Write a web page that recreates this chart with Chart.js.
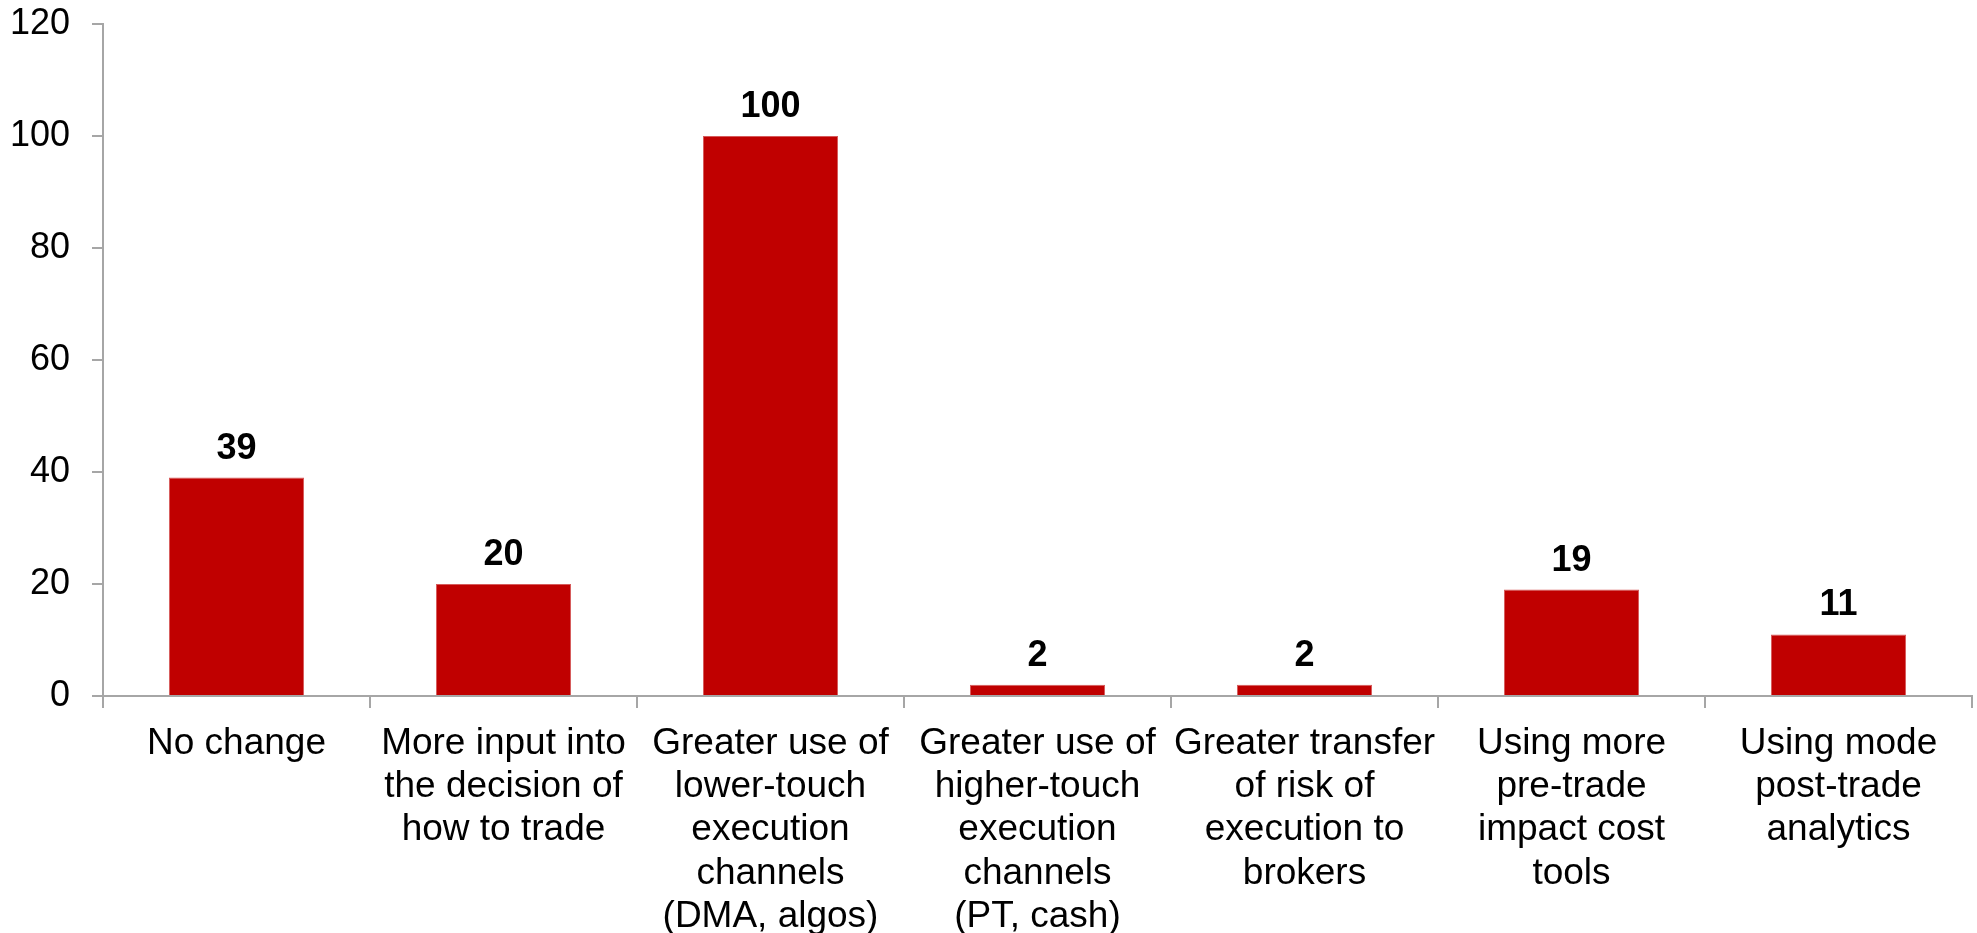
<!DOCTYPE html>
<html>
<head>
<meta charset="utf-8">
<script src="https://cdn.jsdelivr.net/npm/chart.js@4"></script>
<style>
    html, body { margin: 0; padding: 0; background: #fff; }
    #wrap { width: 1977px; height: 933px; }
</style>
</head>
<body>
<div id="wrap"><canvas id="chart" width="1977" height="933"></canvas></div>
<script>
const categories = [
    "No change",
    ["More input into", "the decision of", "how to trade"],
    ["Greater use of", "lower-touch", "execution", "channels", "(DMA, algos)"],
    ["Greater use of", "higher-touch", "execution", "channels", "(PT, cash)"],
    ["Greater transfer", "of risk of", "execution to", "brokers"],
    ["Using more", "pre-trade", "impact cost", "tools"],
    ["Using mode", "post-trade", "analytics"]
];
const values = [39, 20, 100, 2, 2, 19, 11];
const yTicks = [0, 20, 40, 60, 80, 100, 120];

const FONT = "'Liberation Sans', Arial, sans-serif";
const AXIS_GREY = '#a6a6a6';

// value labels above the bars (no datalabels plugin here)
const valueLabels = {
    id: 'valueLabels',
    afterDatasetsDraw(chart) {
        const ctx = chart.ctx;
        const meta = chart.getDatasetMeta(0);
        ctx.save();
        ctx.font = 'bold 36px ' + FONT;
        ctx.fillStyle = '#000';
        ctx.textAlign = 'center';
        ctx.textBaseline = 'alphabetic';
        meta.data.forEach((bar, i) => {
            ctx.fillText(String(values[i]), bar.x, bar.y - 19);
        });
        ctx.restore();
    }
};

new Chart(document.getElementById('chart'), {
    type: 'bar',
    data: {
        labels: categories,
        datasets: [{
            data: values,
            backgroundColor: '#c00000',
            borderColor: '#d65a5a',
            borderWidth: 1,
            barPercentage: 0.506,
            categoryPercentage: 1
        }]
    },
    options: {
        responsive: false,
        animation: false,
        layout: { padding: { top: 24, right: 5, left: 0, bottom: 0 } },
        plugins: {
            legend: { display: false },
            tooltip: { enabled: false }
        },
        scales: {
            x: {
                afterFit(scale) {
                    scale.height = 237;
                    scale.paddingLeft = 0;
                    scale.paddingRight = 0;
                },
                grid: {
                    display: true,
                    drawOnChartArea: false,
                    drawTicks: true,
                    tickLength: 12,
                    color: AXIS_GREY,
                    lineWidth: 2
                },
                border: { display: true, color: AXIS_GREY, width: 2 },
                ticks: {
                    color: '#000',
                    font: { family: FONT, size: 37, lineHeight: 1.17 },
                    padding: 14,
                    maxRotation: 0,
                    autoSkip: false
                }
            },
            y: {
                min: 0,
                max: 120,
                afterFit(scale) {
                    scale.width = 103;
                    scale.paddingTop = 0;
                    scale.paddingBottom = 0;
                },
                afterBuildTicks(scale) { scale.ticks = yTicks.map(v => ({ value: v })); },
                grid: {
                    display: true,
                    drawOnChartArea: false,
                    drawTicks: true,
                    tickLength: 11,
                    color: AXIS_GREY,
                    lineWidth: 2
                },
                border: { display: true, color: AXIS_GREY, width: 2 },
                ticks: {
                    color: '#000',
                    font: { family: FONT, size: 36 },
                    padding: 22
                }
            }
        }
    },
    plugins: [valueLabels]
});
</script>
</body>
</html>
